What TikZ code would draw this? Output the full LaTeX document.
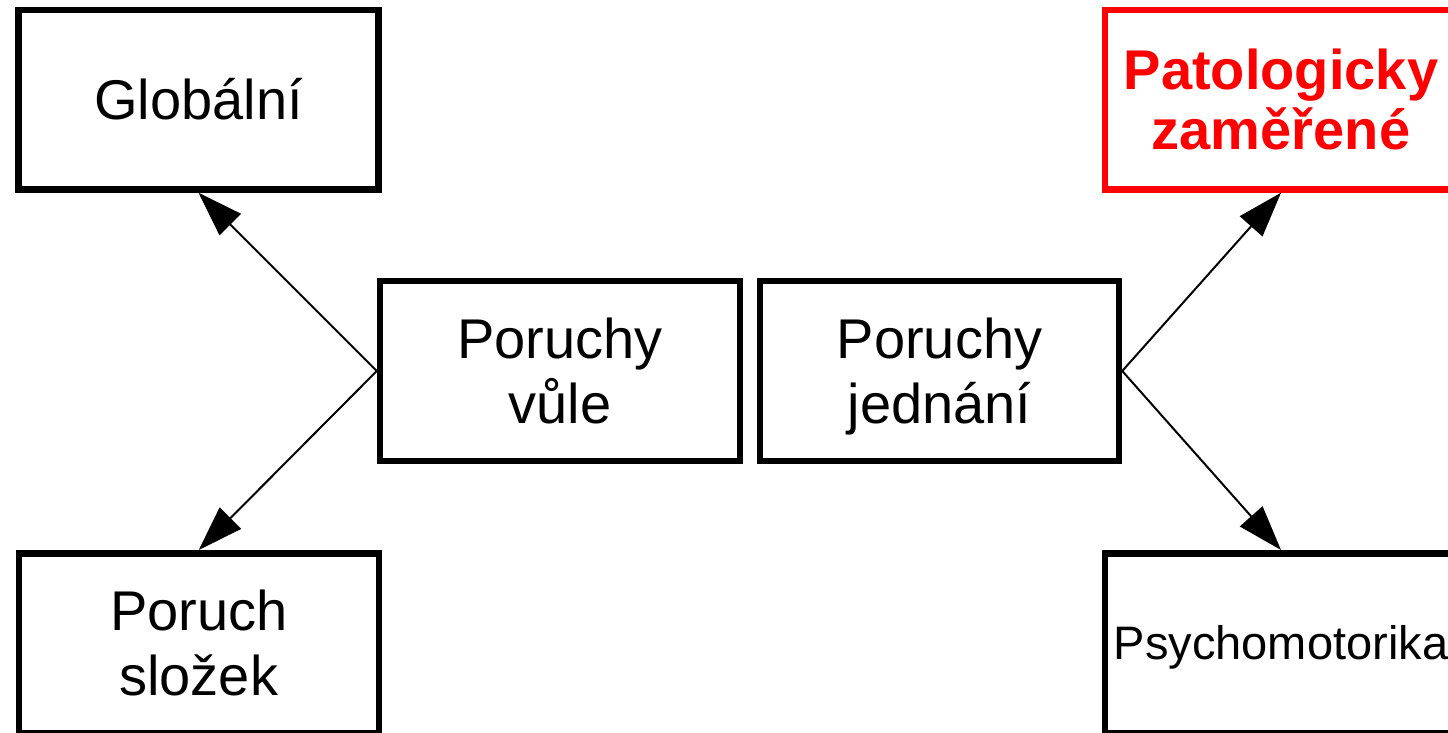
\documentclass[tikz,border=0pt]{standalone}
\usepackage{fontspec}
\setmainfont{Liberation Sans}
\usetikzlibrary{arrows.meta}
\begin{document}
\begin{tikzpicture}[x=0.5pt,y=-0.5pt,
  box/.style={draw, line width=3.25pt, minimum width=180pt, minimum height=89.75pt,
    inner sep=0pt, align=center, font=\fontsize{28}{32.25}\selectfont, text depth=0pt},
  one/.style={text height=20pt},
  two/.style={text height=52.3pt},
  arr/.style={line width=1pt, -{Triangle[length=22.5pt,width=15pt]}}]
\useasboundingbox (0,0) rectangle (1448,733);
\clip (0,0) rectangle (1448,733);
\node[box,one] (glob) at (198.5,99.75) {Globální};
\node[box,two] (vule) at (560,371) {Poruchy\\vůle};
\node[box,two,minimum width=179.5pt] (jed) at (939.5,371) {Poruchy\\jednání};
\node[box,two,draw=red,text=red,minimum width=176pt,
  font=\fontsize{28}{30}\bfseries\selectfont,text height=50pt] (pat) at (1281,99.75) {Patologicky\\zaměřené};
\node[box,two] (slo) at (198.75,643) {Poruch\\složek};
\node[box,minimum width=176pt,font=\fontsize{23.5}{27}\selectfont,text height=16.8pt] (psy) at (1281,643) {Psychomotorika};
\draw[arr] (vule.west) -- (glob.south);
\draw[arr] (vule.west) -- (slo.north);
\draw[arr] (jed.east) -- (pat.south);
\draw[arr] (jed.east) -- (psy.north);
\end{tikzpicture}
\end{document}
